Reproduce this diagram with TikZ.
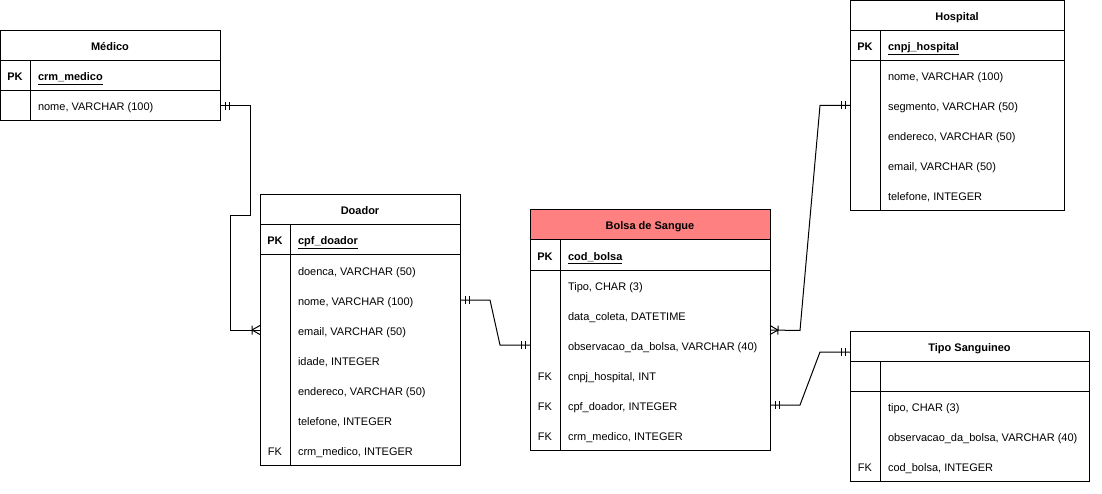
\documentclass[tikz,border=0pt]{standalone}
\usepackage{fontspec}
\setsansfont{Liberation Sans}
\usetikzlibrary{positioning}

\newcommand\erfont{\sffamily\fontsize{11}{13}\selectfont}
\newcommand\pkname[1]{\textbf{\underline{#1}}}
\definecolor{bolsared}{HTML}{FF8080}

% ER tips: two bars (one) and bar + crow's foot (many)
\pgfdeclarearrow{
	name = ERone,
	setup code = {
		\pgfarrowssettipend{0pt}
		\pgfarrowssetlineend{0pt}
		\pgfarrowssetbackend{-10pt}
		\pgfarrowsupperhullpoint{0pt}{4pt}
		\pgfarrowsupperhullpoint{-10pt}{4pt}
	},
	drawing code = {
		\pgfpathmoveto{\pgfqpoint{-5pt}{-4pt}}
		\pgfpathlineto{\pgfqpoint{-5pt}{4pt}}
		\pgfpathmoveto{\pgfqpoint{-9pt}{-4pt}}
		\pgfpathlineto{\pgfqpoint{-9pt}{4pt}}
		\pgfusepathqstroke
	}
}
\pgfdeclarearrow{
	name = ERmany,
	setup code = {
		\pgfarrowssettipend{0pt}
		\pgfarrowssetlineend{0pt}
		\pgfarrowssetbackend{-10pt}
		\pgfarrowsupperhullpoint{0pt}{5pt}
		\pgfarrowsupperhullpoint{-10pt}{5pt}
	},
	drawing code = {
		\pgfpathmoveto{\pgfqpoint{-8pt}{0pt}}
		\pgfpathlineto{\pgfqpoint{0pt}{4.5pt}}
		\pgfpathmoveto{\pgfqpoint{-8pt}{0pt}}
		\pgfpathlineto{\pgfqpoint{0pt}{-4.5pt}}
		\pgfpathmoveto{\pgfqpoint{-8pt}{-4.5pt}}
		\pgfpathlineto{\pgfqpoint{-8pt}{4.5pt}}
		\pgfusepathqstroke
	}
}

\begin{document}
\begin{tikzpicture}[x=1pt,y=-1pt,line width=1pt,
	tbl/.style={draw=black,fill=white,minimum height=30pt,inner sep=0pt,outer sep=0pt,text height=12pt,text depth=2pt},
	hdr/.style={tbl,font=\erfont\bfseries},
	keyc/.style={minimum width=30pt,minimum height=30pt,inner sep=0pt,outer sep=0pt,text height=12pt,text depth=2pt,font=\erfont},
	pkc/.style={keyc,font=\erfont\bfseries},
	fld/.style={minimum height=30pt,inner xsep=8pt,inner ysep=0pt,outer sep=0pt,text height=12pt,text depth=2pt,font=\erfont},
	rel/.style={draw=black,line width=1pt}]
	\useasboundingbox (0,0) rectangle (1102,494);

	% Medico
	\node [hdr,minimum width=220pt] at (110,46) (med) {Médico};
	\node [tbl,minimum width=220pt,below=0pt of med] (med_pk) {};
	\node [tbl,minimum width=220pt,below=0pt of med_pk] (med_body) {};
	\node [pkc,right=0pt of med_pk.west] (med_pk_k) {PK};
	\node [fld,right=0pt of med_pk_k] (med_crm) {\pkname{crm\_medico}};
	\node [keyc,below=0pt of med_pk_k] (med_k1) {};
	\node [fld,right=0pt of med_k1] (med_nome) {nome, VARCHAR (100)};
	\draw (med_pk_k.north east) -- (med_pk_k.north east|-med_body.south);

	% Doador
	\node [hdr,minimum width=200pt] at (360,210) (dd) {Doador};
	\node [tbl,minimum width=200pt,below=0pt of dd] (dd_pk) {};
	\node [tbl,minimum width=200pt,minimum height=210pt,below=0pt of dd_pk] (dd_body) {};
	\node [pkc,right=0pt of dd_pk.west] (dd_pk_k) {PK};
	\node [fld,right=0pt of dd_pk_k] (dd_cpf) {\pkname{cpf\_doador}};
	\node [keyc,below=0pt of dd_pk_k] (dd_k1) {};
	\node [fld,right=0pt of dd_k1] (dd_doenca) {doenca, VARCHAR (50)};
	\node [keyc,below=0pt of dd_k1] (dd_k2) {};
	\node [fld,right=0pt of dd_k2] (dd_nome) {nome, VARCHAR (100)};
	\node [keyc,below=0pt of dd_k2] (dd_k3) {};
	\node [fld,right=0pt of dd_k3] (dd_email) {email, VARCHAR (50)};
	\node [keyc,below=0pt of dd_k3] (dd_k4) {};
	\node [fld,right=0pt of dd_k4] (dd_idade) {idade, INTEGER};
	\node [keyc,below=0pt of dd_k4] (dd_k5) {};
	\node [fld,right=0pt of dd_k5] (dd_end) {endereco, VARCHAR (50)};
	\node [keyc,below=0pt of dd_k5] (dd_k6) {};
	\node [fld,right=0pt of dd_k6] (dd_tel) {telefone, INTEGER};
	\node [keyc,below=0pt of dd_k6] (dd_k7) {FK};
	\node [fld,right=0pt of dd_k7] (dd_crm) {crm\_medico, INTEGER};
	\draw (dd_pk_k.north east) -- (dd_pk_k.north east|-dd_body.south);

	% Bolsa de Sangue
	\node [hdr,fill=bolsared,minimum width=240pt] at (650,225) (bs) {Bolsa de Sangue};
	\node [tbl,minimum width=240pt,below=0pt of bs] (bs_pk) {};
	\node [tbl,minimum width=240pt,minimum height=180pt,below=0pt of bs_pk] (bs_body) {};
	\node [pkc,right=0pt of bs_pk.west] (bs_pk_k) {PK};
	\node [fld,right=0pt of bs_pk_k] (bs_cod) {\pkname{cod\_bolsa}};
	\node [keyc,below=0pt of bs_pk_k] (bs_k1) {};
	\node [fld,right=0pt of bs_k1] (bs_tipo) {Tipo, CHAR (3)};
	\node [keyc,below=0pt of bs_k1] (bs_k2) {};
	\node [fld,right=0pt of bs_k2] (bs_data) {data\_coleta, DATETIME};
	\node [keyc,below=0pt of bs_k2] (bs_k3) {};
	\node [fld,right=0pt of bs_k3] (bs_obs) {observacao\_da\_bolsa, VARCHAR (40)};
	\node [keyc,below=0pt of bs_k3] (bs_k4) {FK};
	\node [fld,right=0pt of bs_k4] (bs_cnpj) {cnpj\_hospital, INT};
	\node [keyc,below=0pt of bs_k4] (bs_k5) {FK};
	\node [fld,right=0pt of bs_k5] (bs_cpf) {cpf\_doador, INTEGER};
	\node [keyc,below=0pt of bs_k5] (bs_k6) {FK};
	\node [fld,right=0pt of bs_k6] (bs_crm) {crm\_medico, INTEGER};
	\draw (bs_pk_k.north east) -- (bs_pk_k.north east|-bs_body.south);

	% Hospital
	\node [hdr,minimum width=214pt] at (957,15.5) (hp) {Hospital};
	\node [tbl,minimum width=214pt,below=0pt of hp] (hp_pk) {};
	\node [tbl,minimum width=214pt,minimum height=150pt,below=0pt of hp_pk] (hp_body) {};
	\node [pkc,right=0pt of hp_pk.west] (hp_pk_k) {PK};
	\node [fld,right=0pt of hp_pk_k] (hp_cnpj) {\pkname{cnpj\_hospital}};
	\node [keyc,below=0pt of hp_pk_k] (hp_k1) {};
	\node [fld,right=0pt of hp_k1] (hp_nome) {nome, VARCHAR (100)};
	\node [keyc,below=0pt of hp_k1] (hp_k2) {};
	\node [fld,right=0pt of hp_k2] (hp_seg) {segmento, VARCHAR (50)};
	\node [keyc,below=0pt of hp_k2] (hp_k3) {};
	\node [fld,right=0pt of hp_k3] (hp_end) {endereco, VARCHAR (50)};
	\node [keyc,below=0pt of hp_k3] (hp_k4) {};
	\node [fld,right=0pt of hp_k4] (hp_email) {email, VARCHAR (50)};
	\node [keyc,below=0pt of hp_k4] (hp_k5) {};
	\node [fld,right=0pt of hp_k5] (hp_tel) {telefone, INTEGER};
	\draw (hp_pk_k.north east) -- (hp_pk_k.north east|-hp_body.south);

	% Tipo Sanguineo
	\node [hdr,minimum width=239pt] at (969.5,346) (ts) {Tipo Sanguineo};
	\node [tbl,minimum width=239pt,below=0pt of ts] (ts_pk) {};
	\node [tbl,minimum width=239pt,minimum height=90pt,below=0pt of ts_pk] (ts_body) {};
	\node [pkc,right=0pt of ts_pk.west] (ts_pk_k) {};
	\node [keyc,below=0pt of ts_pk_k] (ts_k1) {};
	\node [fld,right=0pt of ts_k1] (ts_tipo) {tipo, CHAR (3)};
	\node [keyc,below=0pt of ts_k1] (ts_k2) {};
	\node [fld,right=0pt of ts_k2] (ts_obs) {observacao\_da\_bolsa, VARCHAR (40)};
	\node [keyc,below=0pt of ts_k2] (ts_k3) {FK};
	\node [fld,right=0pt of ts_k3] (ts_cod) {cod\_bolsa, INTEGER};
	\draw (ts_pk_k.north east) -- (ts_pk_k.north east|-ts_body.south);

	% relations
	\draw[rel,ERone-ERmany] (med_nome-|med_body.east) -- ++(30,0) -- ++(0,110) -- ++(-20,0) |- (dd_email-|dd_body.west);
	\draw[rel,ERone-ERone] (dd_nome-|dd_body.east) -- ++(30,0) -- ++(10,45) -- (bs_obs-|bs_body.west);
	\draw[rel,ERone-ERmany] (hp_seg-|hp_body.west) -- ++(-30,0) -- ++(-20,225) -- (bs_k2.south-|bs_body.east);
	\draw[rel,ERone-ERone] ([yshift=-6pt]ts.west) -- ++(-30,0) -- ++(-20,53) -- (bs_cpf-|bs_body.east);
\end{tikzpicture}
\end{document}
